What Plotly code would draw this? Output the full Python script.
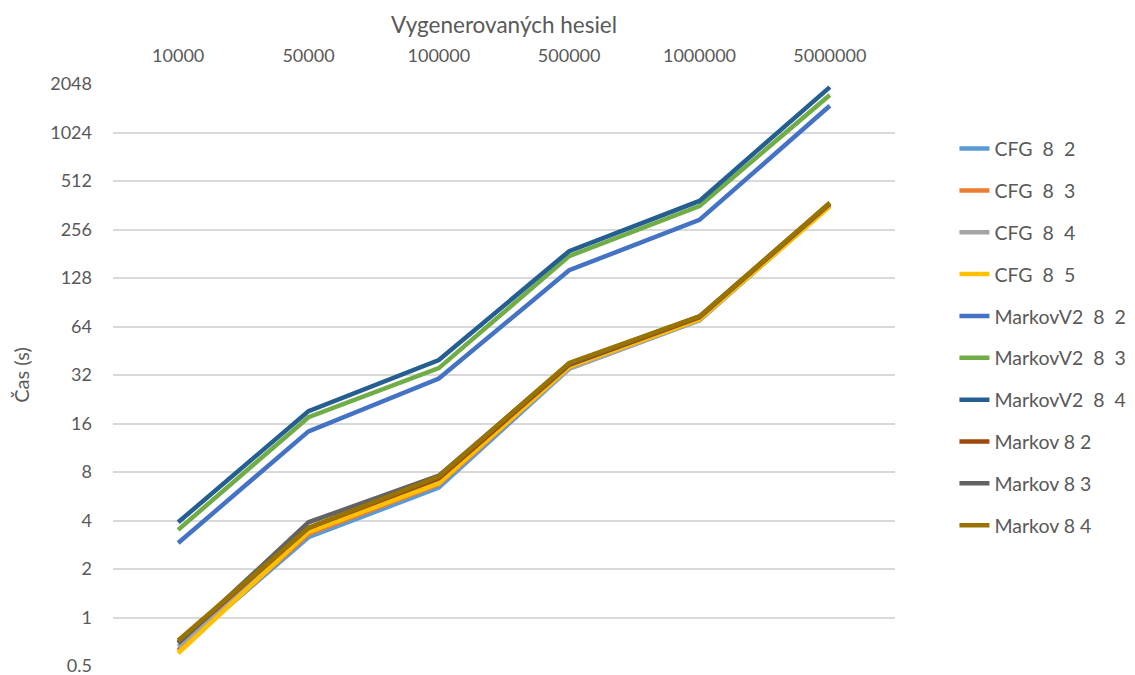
import plotly.graph_objects as go
import math

categories = ["10000", "50000", "100000", "500000", "1000000", "5000000"]

series_names = [
    "CFG\u00a0 8\u00a0 2", "CFG\u00a0 8\u00a0 3", "CFG\u00a0 8\u00a0 4", "CFG\u00a0 8\u00a0 5",
    "MarkovV2\u00a0 8\u00a0 2", "MarkovV2\u00a0 8\u00a0 3", "MarkovV2\u00a0 8\u00a0 4",
    "Markov 8 2", "Markov 8 3", "Markov 8 4",
]

cfg_8_2 = [0.63, 3.15, 6.4, 35, 70, 360]
cfg_8_3 = [0.62, 3.3, 6.7, 35.5, 71, 362]
cfg_8_4 = [0.66, 3.4, 6.9, 35, 70, 365]
cfg_8_5 = [0.60, 3.4, 6.8, 36, 71, 355]
markovv2_8_2 = [2.9, 14.3, 30.4, 143, 294, 1500]
markovv2_8_3 = [3.5, 17.5, 35.3, 175, 358, 1750]
markovv2_8_4 = [3.9, 19.1, 39.6, 188, 385, 1960]
markov_8_2 = [0.70, 3.6, 7.3, 37, 73, 370]
markov_8_3 = [0.69, 3.9, 7.6, 37.5, 74, 372]
markov_8_4 = [0.72, 3.6, 7.5, 38, 74, 375]

series_values = [cfg_8_2, cfg_8_3, cfg_8_4, cfg_8_5, markovv2_8_2, markovv2_8_3,
                 markovv2_8_4, markov_8_2, markov_8_3, markov_8_4]

colors = ["#5B9BD5", "#ED7D31", "#A5A5A5", "#FFC000", "#4472C4", "#70AD47",
          "#255E91", "#9E480E", "#636363", "#997300"]

y_ticks = [0.5, 1, 2, 4, 8, 16, 32, 64, 128, 256, 512, 1024, 2048]
y_tick_labels = ["0.5", "1", "2", "4", "8", "16", "32", "64", "128", "256", "512", "1024", "2048"]

FONT = "Lato, 'Open Sans', sans-serif"
GRAY = "#595959"

fig = go.Figure()
for i, (name, vals, col) in enumerate(zip(series_names, series_values, colors)):
    fig.add_trace(go.Scatter(
        x=categories, y=vals, name=name, mode="lines",
        line=dict(color=col, width=4.5), legendgroup=f"g{i}",
    ))

fig.update_layout(
    width=1135, height=675,
    margin=dict(l=105, r=244, t=76, b=17),
    paper_bgcolor="white", plot_bgcolor="white",
    font=dict(family=FONT, size=18, color=GRAY),
    xaxis=dict(
        type="category", side="top", range=[-0.5, 5.5], automargin=False,
        showgrid=False, showline=False, zeroline=False, ticks="",
        ticklabelstandoff=17,
        title=dict(text="Vygenerovaných hesiel", font=dict(size=22.5, color=GRAY), standoff=4),
        tickfont=dict(size=18, color=GRAY),
    ),
    yaxis=dict(
        type="log", range=[math.log10(0.5), math.log10(2048)], automargin=False,
        tickvals=y_ticks, ticktext=y_tick_labels,
        showgrid=True, gridcolor="#D9D9D9", gridwidth=1.5,
        showline=False, zeroline=False, ticks="",
        ticklabelstandoff=20,
        title=dict(text="Čas (s)", font=dict(size=20, color=GRAY), standoff=15),
        tickfont=dict(size=18, color=GRAY),
    ),
    legend=dict(
        x=1.076, y=0.922, xanchor="left", yanchor="top",
        font=dict(size=19.5, color=GRAY), tracegroupgap=13.5,
        bgcolor="rgba(0,0,0,0)", itemwidth=30,
    ),
    showlegend=True,
)

fig.write_html("out.html")
